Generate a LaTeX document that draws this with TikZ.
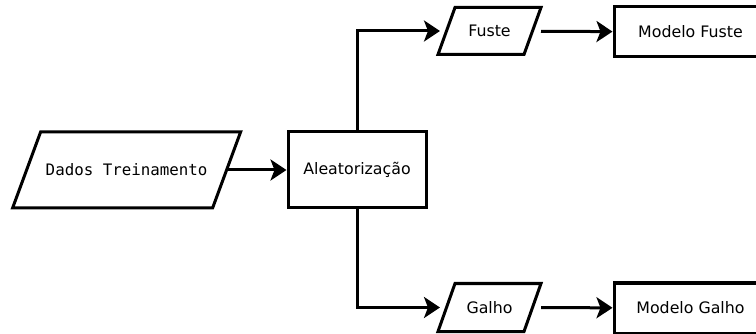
\documentclass[tikz,border=0pt]{standalone}
\usepackage{fontspec}
\setmainfont{DejaVu Sans}
\setmonofont{DejaVu Sans Mono}
\usetikzlibrary{arrows.meta}
\begin{document}
\begin{tikzpicture}[x=1pt,y=-1pt,line width=3pt]
  \tikzset{ io/.style={rectangle,inner sep=0pt,outer sep=0pt,font=\fontsize{15.8}{19}\selectfont},
    proc/.style={draw,rectangle,inner sep=0pt,font=\fontsize{15.8}{19}\selectfont},
    ar/.style={-{Stealth[length=16pt,width=21pt,inset=4pt]}},
  }
  \useasboundingbox (0,0) rectangle (756,334);
  \clip (0,0) rectangle (756,334);
  \node[io,minimum width=228pt,minimum height=76pt] (dados) at (126.6,170) {\ttfamily Dados Treinamento};
  \node[proc,minimum width=138pt,minimum height=76pt] (alea) at (357,170) {Aleatorização};
  \node[io,minimum width=103pt,minimum height=47pt] (fuste) at (489.5,31) {Fuste};
  \node[io,minimum width=103pt,minimum height=48pt] (galho) at (489.5,307.5) {Galho};
  \node[proc,minimum width=153pt,minimum height=50pt] (mfuste) at (690.5,32) {Modelo Fuste};
  \node[proc,minimum width=153pt,minimum height=50pt] (mgalho) at (690.5,308) {Modelo Galho};

  % the slanted data boxes
  \draw ([xshift=28pt]dados.north west) -- (dados.north east)
    -- ([xshift=-28pt]dados.south east) -- (dados.south west) -- cycle;
  \draw ([xshift=17pt]fuste.north west) -- (fuste.north east)
    -- ([xshift=-17pt]fuste.south east) -- (fuste.south west) -- cycle;
  \draw ([xshift=17pt]galho.north west) -- (galho.north east)
    -- ([xshift=-17pt]galho.south east) -- (galho.south west) -- cycle;

  % the connections
  \draw[ar] ([xshift=-14pt]dados.east) -- (alea);
  \draw[ar] (alea.north) |- ([xshift=2pt]fuste.west);
  \draw[ar] (alea.south) |- ([xshift=2pt]galho.west);
  \draw[ar] (fuste) -- (mfuste);
  \draw[ar] (galho) -- (mgalho);
\end{tikzpicture}
\end{document}
